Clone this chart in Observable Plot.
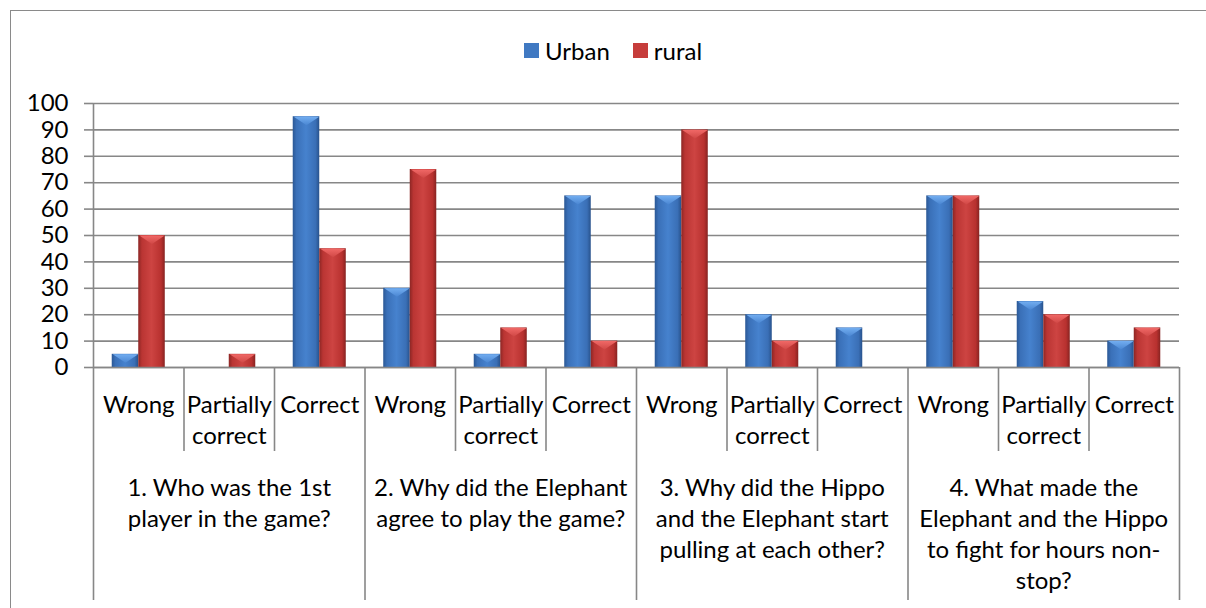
<!DOCTYPE html>
<html><head><meta charset="utf-8">
<script src="https://cdn.jsdelivr.net/npm/d3@7"></script>
<script src="https://cdn.jsdelivr.net/npm/@observablehq/plot@0.6"></script>
<style>
html,body{margin:0;padding:0;overflow:hidden;background:#fff;}
#wrap{position:relative;width:1206px;height:608px;overflow:hidden;}
#border{position:absolute;left:10px;top:10px;width:1300px;height:700px;border:1.5px solid #8a8a8a;box-sizing:border-box;}
#chart{position:absolute;left:0;top:0;}
#legend{position:absolute;top:34px;left:524px;}
#legend [class$="-swatch"] > svg{margin-right:6px !important;}
#legend [class$="-swatch"]{margin-right:23px !important;}
</style></head><body>
<div id="wrap"><div id="border"></div><div id="chart"></div><div id="legend"></div></div>
<script>
// ---- data ----
const questions = [
  "1. Who was the 1st\nplayer in the game?",
  "2. Why did the Elephant\nagree to play the game?",
  "3. Why did the Hippo\nand the Elephant start\npulling at each other?",
  "4. What made the\nElephant and the Hippo\nto fight for hours non-\nstop?"
];
const answers = ["Wrong", "Partially\ncorrect", "Correct"];
const series = ["Urban", "rural"];
const urban = [5, 0, 95, 30, 5, 65, 65, 20, 15, 65, 25, 10];
const rural = [50, 5, 45, 75, 15, 10, 90, 10, 0, 65, 20, 15];
const yTicks = [0, 10, 20, 30, 40, 50, 60, 70, 80, 90, 100];

// ---- layout / style ----
const W = 1206, H = 608;
const mL = 93, mR = 27, mT = 103, mB = 241;
const plotH = H - mT - mB;
const font = "Lato, 'Open Sans', sans-serif";
const fs = 24;
const gray = "#878787";
const barShare = 0.293; // bar width as a share of one category slot
const barPx = (W - mL - mR) / 12 * barShare;
const colors = ["#4079C2", "#C63D3B"];

const cats = questions.flatMap((q, qi) => answers.map((a, ai) => ({qi, ai, i: qi * 3 + ai})));
const rows = cats.flatMap(c => [
  {i: c.i, series: "Urban", value: urban[c.i]},
  {i: c.i, series: "rural", value: rural[c.i]}
]);
const boundaries = d3.range(cats.length + 1);

// bevel highlight at top of each bar (downward triangle)
const bevel = {draw(ctx) {
  const h = barPx / 2 - 0.5;
  ctx.moveTo(-h, 0); ctx.lineTo(h, 0); ctx.lineTo(0, 8.5); ctx.closePath();
}};

const defs = () => {
  const g = document.createElementNS("http://www.w3.org/2000/svg", "g");
  g.innerHTML = `<defs>
  <linearGradient id="gU" x1="0" x2="1" y1="0" y2="0">
    <stop offset="0" stop-color="#2B5895"/><stop offset="0.14" stop-color="#3A70B8"/>
    <stop offset="0.5" stop-color="#4682CE"/><stop offset="0.86" stop-color="#3A6FB6"/>
    <stop offset="1" stop-color="#28528C"/></linearGradient>
  <linearGradient id="gR" x1="0" x2="1" y1="0" y2="0">
    <stop offset="0" stop-color="#8C2624"/><stop offset="0.14" stop-color="#BA3533"/>
    <stop offset="0.5" stop-color="#CD4442"/><stop offset="0.86" stop-color="#B8312F"/>
    <stop offset="1" stop-color="#872321"/></linearGradient>
  <linearGradient id="gUT" x1="0" x2="0" y1="0" y2="1">
    <stop offset="0" stop-color="#72ADF0"/><stop offset="1" stop-color="#4A86D2"/></linearGradient>
  <linearGradient id="gRT" x1="0" x2="0" y1="0" y2="1">
    <stop offset="0" stop-color="#F06866"/><stop offset="1" stop-color="#D04846"/></linearGradient>
  </defs>`;
  return g;
};

const chart = Plot.plot({
  width: W, height: H,
  marginLeft: mL, marginRight: mR, marginTop: mT, marginBottom: mB,
  style: {fontFamily: font, fontSize: fs + "px", color: "#000", background: "transparent"},
  x: {type: "linear", domain: [0, cats.length], axis: null},
  y: {domain: [0, 100], ticks: yTicks},
  marks: [
    defs,
    Plot.gridY(yTicks, {stroke: gray, strokeOpacity: 1, strokeWidth: 1.6}),
    Plot.axisY(yTicks, {tickSize: 9, tickPadding: 16, fontSize: fs, stroke: gray, strokeWidth: 1.6, fill: "#000", label: null}),
    // left value axis line
    Plot.ruleX([0], {stroke: gray, strokeWidth: 1.6}),
    // bars
    Plot.rectY(rows.filter(d => d.series === "Urban"), {
      x1: d => d.i + 0.5 - barShare, x2: d => d.i + 0.5, y: "value", fill: "url(#gU)"
    }),
    Plot.rectY(rows.filter(d => d.series === "rural"), {
      x1: d => d.i + 0.5, x2: d => d.i + 0.5 + barShare, y: "value", fill: "url(#gR)"
    }),
    Plot.dot(rows.filter(d => d.series === "Urban" && d.value > 0), {
      x: d => d.i + 0.5 - barShare / 2, y: "value", symbol: bevel, r: 5, fill: "url(#gUT)", stroke: null
    }),
    Plot.dot(rows.filter(d => d.series === "rural" && d.value > 0), {
      x: d => d.i + 0.5 + barShare / 2, y: "value", symbol: bevel, r: 5, fill: "url(#gRT)", stroke: null
    }),
    // category axis line
    Plot.ruleY([0], {stroke: gray, strokeWidth: 1.6}),
    // answer separators below axis
    Plot.ruleX(boundaries.filter(b => b % 3 !== 0), {stroke: gray, strokeWidth: 1.6, insetTop: plotH, insetBottom: -84}),
    // question separators below axis
    Plot.ruleX(boundaries.filter(b => b % 3 === 0), {stroke: gray, strokeWidth: 1.6, insetTop: plotH, insetBottom: -233}),
    // answer labels
    Plot.text(cats, {x: d => d.i + 0.5, text: d => answers[d.ai], frameAnchor: "bottom",
      lineAnchor: "top", dy: 23, fontSize: fs, lineHeight: 1.3, fill: "#000"}),
    // question labels
    Plot.text(questions, {x: (d, k) => k * 3 + 1.5, text: d => d, frameAnchor: "bottom",
      lineAnchor: "top", dy: 106, fontSize: fs, lineHeight: 1.3, fill: "#000"})
  ]
});
document.getElementById("chart").append(chart);

const legend = Plot.legend({
  color: {domain: series, range: colors},
  legend: "swatches", swatchSize: 15,
  style: {fontFamily: font, fontSize: fs + "px", color: "#000"}
});
document.getElementById("legend").append(legend);
</script>
</body></html>
